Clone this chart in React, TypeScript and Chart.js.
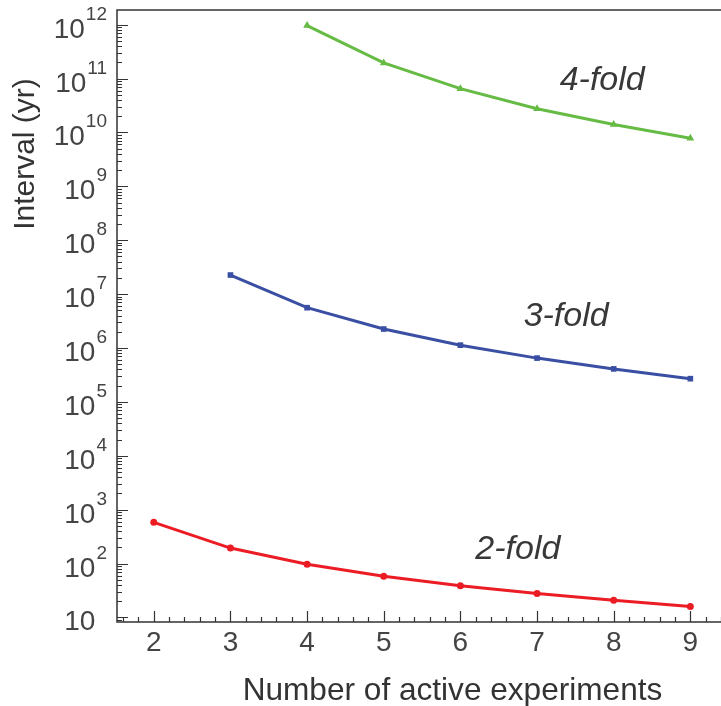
import React, { useEffect, useRef } from "react";
import { Chart, registerables } from "chart.js";

Chart.register(...registerables);

// ---- data ----
const experiments = [2, 3, 4, 5, 6, 7, 8, 9];
const twoFold = [583, 194, 97, 58, 39, 28, 21, 16];
const threeFold = [null, 2.26e7, 5.6e6, 2.25e6, 1.13e6, 6.5e5, 4.1e5, 2.7e5];
const fourFold = [null, null, 9.6e11, 1.95e11, 6.5e10, 2.75e10, 1.4e10, 7.8e9];

const yTickExponents = [1, 2, 3, 4, 5, 6, 7, 8, 9, 10, 11, 12];
const xTickLabels = ["2", "3", "4", "5", "6", "7", "8", "9"];

const seriesNames = ["2-fold", "3-fold", "4-fold"];
const labelX = [6.75, 7.38, 7.85];
const labelY = [186, 3.9e6, 9.3e10];

const xTitle = "Number of active experiments";
const yTitle = "Interval (yr)";

const FONT = "'Liberation Sans', Arial, Helvetica, sans-serif";
const TEXT = "#444444";
const AXIS = "#333333";

function toPoints(vals: (number | null)[]) {
  return experiments
    .map((x, i) => ({ x, y: vals[i] }))
    .filter((p) => p.y !== null) as { x: number; y: number }[];
}

const framePlugin = {
  id: "framePlugin",
  afterDraw(chart: any) {
    const ctx: CanvasRenderingContext2D = chart.ctx;
    const xs = chart.scales.x;
    const ys = chart.scales.y;
    const a = chart.chartArea;
    ctx.save();
    // frame
    ctx.strokeStyle = AXIS;
    ctx.lineWidth = 1.5;
    ctx.beginPath();
    ctx.moveTo(a.right, a.top);
    ctx.lineTo(a.left, a.top);
    ctx.lineTo(a.left, a.bottom);
    ctx.lineTo(a.right, a.bottom);
    ctx.stroke();

    // x ticks (inward)
    ctx.lineWidth = 1.2;
    ctx.beginPath();
    const start = Math.ceil(xs.min / 0.2 - 1e-9);
    for (let k = start; k * 0.2 <= xs.max + 1e-9; k++) {
      const v = Math.round(k * 2) / 10;
      const px = Math.round(xs.getPixelForValue(v)) + 0.5;
      const major = k % 5 === 0;
      ctx.moveTo(px, a.bottom);
      ctx.lineTo(px, a.bottom - (major ? 11 : 5));
    }
    ctx.stroke();

    // y ticks (inward)
    ctx.beginPath();
    for (let e = 0; e <= 12; e++) {
      for (let m = 1; m <= 9; m++) {
        const v = m * Math.pow(10, e);
        if (v < ys.min || v > ys.max) continue;
        const py = Math.round(ys.getPixelForValue(v)) + 0.5;
        ctx.moveTo(a.left, py);
        ctx.lineTo(a.left + (m === 1 ? 11 : 5), py);
      }
    }
    ctx.stroke();

    // y tick labels with superscripts
    ctx.fillStyle = TEXT;
    ctx.textBaseline = "alphabetic";
    const R = 107;
    const supFont = `19px ${FONT}`;
    const baseFont = `28px ${FONT}`;
    yTickExponents.forEach((e) => {
      const py = ys.getPixelForValue(Math.pow(10, e));
      ctx.font = supFont;
      const supText = e === 1 ? "" : String(e);
      const supW = ctx.measureText(e === 1 ? "0" : supText).width;
      const baseRight = R - supW - 1;
      ctx.font = baseFont;
      ctx.textAlign = "right";
      ctx.fillText("10", baseRight, py + 13);
      if (supText) {
        ctx.font = supFont;
        ctx.textAlign = "left";
        ctx.fillText(supText, baseRight + 1, py - 5);
      }
    });

    // x tick labels
    ctx.font = baseFont;
    ctx.textAlign = "center";
    xTickLabels.forEach((t) => {
      ctx.fillText(t, xs.getPixelForValue(Number(t)), 651);
    });

    // axis titles
    ctx.fillStyle = "#333333";
    ctx.font = `31.6px ${FONT}`;
    ctx.textAlign = "center";
    ctx.fillText(xTitle, 452.5, 700);
    ctx.save();
    ctx.translate(34, 154);
    ctx.rotate(-Math.PI / 2);
    ctx.font = `30px ${FONT}`;
    ctx.fillText(yTitle, 0, 0);
    ctx.restore();

    // series annotations
    ctx.fillStyle = "#383838";
    ctx.font = `italic 34px ${FONT}`;
    ctx.textAlign = "center";
    ctx.textBaseline = "middle";
    seriesNames.forEach((n, i) => {
      ctx.fillText(n, xs.getPixelForValue(labelX[i]), ys.getPixelForValue(labelY[i]));
    });
    ctx.restore();
  },
};

export default function App() {
  const ref = useRef<HTMLCanvasElement | null>(null);
  useEffect(() => {
    if (!ref.current) return;
    const chart = new Chart(ref.current, {
      type: "line",
      data: {
        datasets: [
          {
            label: "2-fold",
            data: toPoints(twoFold),
            borderColor: "#ec1c24",
            backgroundColor: "#ec1c24",
            borderWidth: 3,
            pointStyle: "circle",
            pointRadius: 3.5,
            pointBorderWidth: 0,
          },
          {
            label: "3-fold",
            data: toPoints(threeFold),
            borderColor: "#3a4fa3",
            backgroundColor: "#3a4fa3",
            borderWidth: 3,
            pointStyle: "rect",
            pointRadius: 4,
            pointBorderWidth: 0,
          },
          {
            label: "4-fold",
            data: toPoints(fourFold),
            borderColor: "#66bb44",
            backgroundColor: "#66bb44",
            borderWidth: 3,
            pointStyle: "triangle",
            pointRadius: 4.5,
            pointBorderWidth: 0,
          },
        ],
      },
      options: {
        animation: false,
        responsive: false,
        maintainAspectRatio: false,
        devicePixelRatio: 1,
        layout: { autoPadding: false, padding: { top: 10, right: 0, left: 0, bottom: 0 } },
        plugins: { legend: { display: false }, tooltip: { enabled: false } },
        scales: {
          x: {
            type: "linear",
            min: 1.52,
            max: 9.4,
            grid: { display: false },
            border: { display: false },
            ticks: { display: false },
            afterFit: (s: any) => {
              s.height = 84;
              s.paddingLeft = 0;
              s.paddingRight = 0;
            },
          },
          y: {
            type: "logarithmic",
            min: 8.25,
            max: 1.87e12,
            grid: { display: false },
            border: { display: false },
            ticks: { display: false },
            afterFit: (s: any) => {
              s.width = 117;
              s.paddingTop = 0;
              s.paddingBottom = 0;
            },
          },
        },
      },
      plugins: [framePlugin],
    });
    return () => chart.destroy();
  }, []);
  return (
    <div style={{ position: "absolute", left: 0, top: 0, width: 721, height: 706, background: "#fff" }}>
      <canvas ref={ref} width={721} height={706} style={{ width: 721, height: 706 }} />
    </div>
  );
}
